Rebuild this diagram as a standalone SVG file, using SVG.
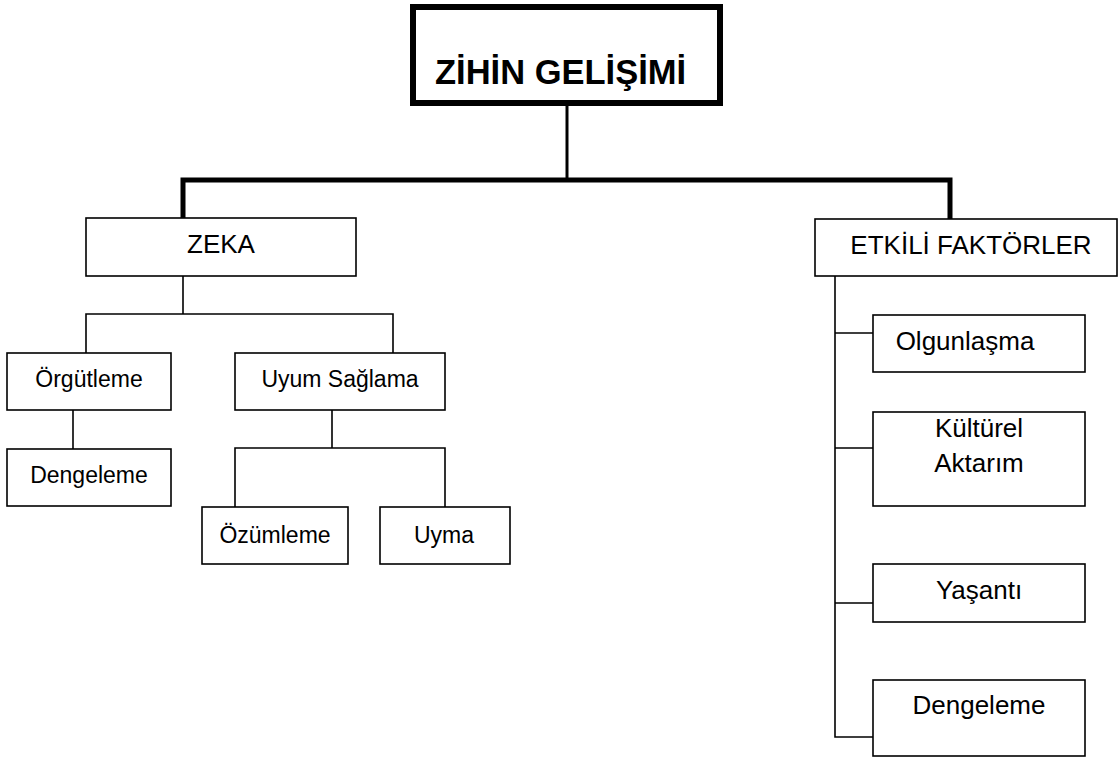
<svg xmlns="http://www.w3.org/2000/svg" width="1119" height="759" viewBox="0 0 1119 759">
<style>
.box{fill:#fff;stroke:#000;stroke-width:1.6}
.t{font-family:"Liberation Sans",Arial,sans-serif;font-size:26px;fill:#000;text-anchor:middle}
.s{font-size:23px}
.c{fill:none;stroke:#000;stroke-width:1.6}
.ct{fill:none;stroke:#000;stroke-width:5}
</style>
<rect width="1119" height="759" fill="#fff"/>
<g id="connectors">
<path class="c" d="M567 103V180" style="stroke-width:3"/>
<path class="ct" d="M183 218V180H950V219"/>
<path class="c" d="M183 276V314M86 353V314H393V353"/>
<path class="c" d="M73 410V449"/>
<path class="c" d="M332 410V448M235 507V448H445V507"/>
<path class="c" d="M835 276V737H873M835 333H873M835 448H873M835 603H873"/>
</g>
<g id="title">
<rect x="413" y="7" width="307" height="96" fill="#fff" stroke="#000" stroke-width="6"/>
<text x="435" y="84" font-family="Liberation Sans,Arial,sans-serif" font-weight="bold" font-size="34.5">ZİHİN GELİŞİMİ</text>
</g>
<g id="zeka">
<rect class="box" x="86" y="218" width="270" height="58"/>
<text class="t" x="221" y="253">ZEKA</text>
</g>
<g id="etkili">
<rect class="box" x="815" y="219" width="302" height="57"/>
<text class="t" x="971" y="254">ETKİLİ FAKTÖRLER</text>
</g>
<g id="orgutleme">
<rect class="box" x="7" y="353" width="164" height="57"/>
<text class="t s" x="89" y="387">Örgütleme</text>
</g>
<g id="dengeleme1">
<rect class="box" x="7" y="449" width="164" height="57"/>
<text class="t s" x="89" y="483">Dengeleme</text>
</g>
<g id="uyum">
<rect class="box" x="235" y="353" width="210" height="57"/>
<text class="t s" x="340" y="387">Uyum Sağlama</text>
</g>
<g id="ozumleme">
<rect class="box" x="202" y="507" width="146" height="57"/>
<text class="t s" x="275" y="543">Özümleme</text>
</g>
<g id="uyma">
<rect class="box" x="380" y="507" width="130" height="57"/>
<text class="t s" x="444" y="543">Uyma</text>
</g>
<g id="olgunlasma">
<rect class="box" x="873" y="315" width="212" height="57"/>
<text class="t" x="965" y="350">Olgunlaşma</text>
</g>
<g id="kulturel">
<rect class="box" x="873" y="412" width="212" height="94"/>
<text class="t" x="979" y="437">Kültürel</text>
<text class="t" x="979" y="472">Aktarım</text>
</g>
<g id="yasanti">
<rect class="box" x="873" y="564" width="212" height="58"/>
<text class="t" x="979" y="599">Yaşantı</text>
</g>
<g id="dengeleme2">
<rect class="box" x="873" y="680" width="212" height="76"/>
<text class="t" x="979" y="714">Dengeleme</text>
</g>
</svg>
